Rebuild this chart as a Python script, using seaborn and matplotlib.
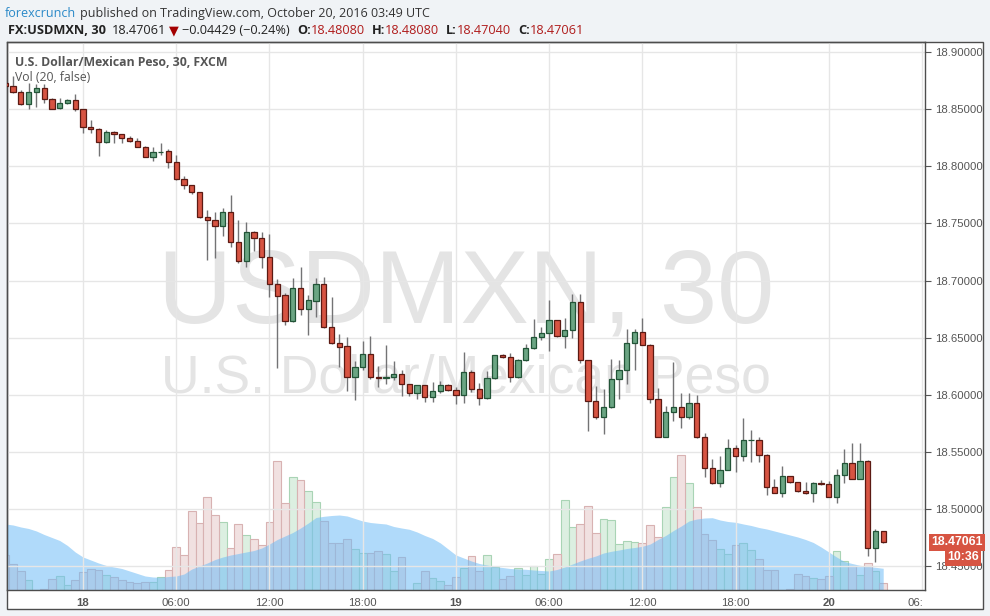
import numpy as np
import pandas as pd
import matplotlib
matplotlib.use('Agg')
import matplotlib.pyplot as plt
import matplotlib.transforms as mtransforms
from matplotlib.patches import Rectangle
from matplotlib.ticker import FormatStrFormatter
import seaborn as sns

# USDMXN 30-minute candles, Oct 17 19:00 -> Oct 20 03:30 UTC
opens = [
    18.8730, 18.8704, 18.8656, 18.8549, 18.8649, 18.8684, 18.8594, 18.8509, 18.8552, 18.8579,
    18.8500, 18.8342, 18.8332, 18.8216, 18.8301, 18.8281, 18.8253, 18.8220, 18.8174, 18.8085,
    18.8126, 18.8132, 18.8036, 18.7887, 18.7834, 18.7773, 18.7554, 18.7528, 18.7480, 18.7601,
    18.7335, 18.7174, 18.7423, 18.7370, 18.7204, 18.6967, 18.6871, 18.6649, 18.6932, 18.6751,
    18.6824, 18.6967, 18.6591, 18.6451, 18.6423, 18.6158, 18.6246, 18.6354, 18.6156, 18.6151,
    18.6153, 18.6179, 18.6092, 18.6013, 18.6083, 18.5978, 18.6030, 18.6083, 18.6039, 18.5995,
    18.6197, 18.6048, 18.5969, 18.6144, 18.6346, 18.6328, 18.6153, 18.6302, 18.6407, 18.6503,
    18.6538, 18.6652, 18.6512, 18.6565, 18.6810, 18.6302, 18.5943, 18.5803, 18.5890, 18.6135,
    18.6214, 18.6451, 18.6547, 18.6433, 18.5960, 18.5633, 18.5847, 18.5890, 18.5803, 18.5925,
    18.5628, 18.5356, 18.5230, 18.5339, 18.5531, 18.5461, 18.5600, 18.5601, 18.5470, 18.5190,
    18.5143, 18.5286, 18.5234, 18.5160, 18.5137, 18.5228, 18.5216, 18.5107, 18.5295, 18.5400,
    18.5265, 18.5420, 18.4655, 18.4808]
highs = [
    18.8738, 18.8791, 18.8669, 18.8728, 18.8721, 18.8721, 18.8599, 18.8596, 18.8590, 18.8634,
    18.8502, 18.8406, 18.8336, 18.8316, 18.8310, 18.8284, 18.8266, 18.8246, 18.8179, 18.8167,
    18.8205, 18.8150, 18.8100, 18.7916, 18.7837, 18.7776, 18.7618, 18.7603, 18.7633, 18.7749,
    18.7530, 18.7513, 18.7434, 18.7423, 18.7405, 18.7011, 18.6889, 18.7020, 18.7116, 18.6874,
    18.7020, 18.7031, 18.6859, 18.6532, 18.6509, 18.6296, 18.6471, 18.6515, 18.6252, 18.6436,
    18.6296, 18.6217, 18.6094, 18.6086, 18.6086, 18.6109, 18.6121, 18.6094, 18.6071, 18.6375,
    18.6217, 18.6100, 18.6208, 18.6348, 18.6357, 18.6363, 18.6313, 18.6442, 18.6664, 18.6596,
    18.6830, 18.6655, 18.6670, 18.6880, 18.6882, 18.6304, 18.6077, 18.6048, 18.6313, 18.6304,
    18.6573, 18.6573, 18.6670, 18.6445, 18.6059, 18.5904, 18.6287, 18.6013, 18.6013, 18.5995,
    18.5663, 18.5435, 18.5464, 18.5610, 18.5558, 18.5797, 18.5691, 18.5628, 18.5481, 18.5260,
    18.5376, 18.5289, 18.5239, 18.5236, 18.5239, 18.5254, 18.5245, 18.5347, 18.5525, 18.5580,
    18.5580, 18.5429, 18.4822, 18.4808]
lows = [
    18.8695, 18.8645, 18.8540, 18.8500, 18.8520, 18.8552, 18.8500, 18.8503, 18.8546, 18.8485,
    18.8295, 18.8295, 18.8093, 18.8207, 18.8207, 18.8202, 18.8214, 18.8170, 18.8082, 18.8050,
    18.8102, 18.7989, 18.7885, 18.7805, 18.7758, 18.7548, 18.7180, 18.7200, 18.7393, 18.7297,
    18.7157, 18.7122, 18.7262, 18.7108, 18.6859, 18.6234, 18.6611, 18.6635, 18.6701, 18.6524,
    18.6684, 18.6585, 18.6445, 18.6246, 18.6036, 18.5954, 18.6217, 18.6135, 18.6071, 18.6094,
    18.6129, 18.5992, 18.5992, 18.5960, 18.5939, 18.5939, 18.6018, 18.6033, 18.5922, 18.5931,
    18.6027, 18.5913, 18.5963, 18.6142, 18.6326, 18.6114, 18.6147, 18.6293, 18.6405, 18.6480,
    18.6386, 18.6506, 18.6412, 18.6500, 18.6281, 18.5685, 18.5785, 18.5659, 18.5881, 18.5960,
    18.6094, 18.6217, 18.6432, 18.5931, 18.5630, 18.5630, 18.5770, 18.5712, 18.5785, 18.5619,
    18.5283, 18.5216, 18.5190, 18.5337, 18.5326, 18.5423, 18.5414, 18.5414, 18.5122, 18.5137,
    18.5107, 18.5227, 18.5151, 18.5131, 18.5061, 18.5210, 18.5105, 18.5052, 18.5230, 18.5258,
    18.5262, 18.4591, 18.4538, 18.4704]
closes = [
    18.8704, 18.8654, 18.8549, 18.8649, 18.8684, 18.8593, 18.8505, 18.8552, 18.8579, 18.8500,
    18.8342, 18.8330, 18.8216, 18.8301, 18.8281, 18.8251, 18.8220, 18.8172, 18.8085, 18.8123,
    18.8130, 18.8036, 18.7887, 18.7834, 18.7773, 18.7554, 18.7528, 18.7480, 18.7601, 18.7335,
    18.7174, 18.7423, 18.7370, 18.7204, 18.6967, 18.6868, 18.6649, 18.6932, 18.6754, 18.6830,
    18.6967, 18.6591, 18.6451, 18.6421, 18.6158, 18.6246, 18.6354, 18.6153, 18.6151, 18.6156,
    18.6179, 18.6092, 18.6013, 18.6083, 18.5978, 18.6030, 18.6083, 18.6039, 18.5995, 18.6197,
    18.6048, 18.5969, 18.6144, 18.6346, 18.6328, 18.6153, 18.6302, 18.6407, 18.6503, 18.6538,
    18.6652, 18.6512, 18.6565, 18.6810, 18.6302, 18.5943, 18.5803, 18.5890, 18.6135, 18.6214,
    18.6451, 18.6547, 18.6433, 18.5960, 18.5633, 18.5847, 18.5890, 18.5803, 18.5925, 18.5628,
    18.5356, 18.5230, 18.5339, 18.5531, 18.5461, 18.5601, 18.5602, 18.5470, 18.5190, 18.5143,
    18.5286, 18.5234, 18.5160, 18.5137, 18.5225, 18.5219, 18.5107, 18.5295, 18.5400, 18.5265,
    18.5417, 18.4655, 18.4804, 18.47061]

# volume (arbitrary units, visible part of the pane) and its 20-bar average
volume = [
    3500, 2600, 1900, 1000, 0, 100, 1100, 1400, 500, 1000,
    1800, 2100, 2000, 1500, 1300, 1000, 800, 700, 800, 800,
    1300, 2000, 4300, 3500, 7900, 6700, 9300, 7500, 6800, 4200,
    6600, 5500, 5100, 4500, 6800, 12900, 8700, 11300, 11000, 9900,
    8800, 6900, 4700, 4700, 5100, 4100, 3700, 3700, 3900, 3600,
    1900, 3300, 0, 700, 1900, 1200, 900, 500, 1300, 2200,
    3400, 1900, 3500, 2300, 1100, 1400, 2200, 1500, 2400, 1600,
    3100, 3600, 9000, 6300, 6600, 8400, 5700, 7100, 7000, 4600,
    4900, 4800, 4700, 6500, 5300, 8300, 11300, 13500, 10700, 8300,
    5600, 5000, 4100, 3600, 4500, 4700, 4000, 3100, 2000, 2000,
    0, 100, 1600, 1400, 1200, 1100, 1400, 3900, 2900, 2400,
    1500, 2700, 1900, 700]
vol_ma = [
    6600, 6500, 6300, 6150, 5900, 5550, 5250, 4950, 4450, 3800,
    3300, 3000, 2700, 2450, 2300, 2150, 1900, 1650, 1400, 1300,
    1270, 1350, 1400, 1600, 2100, 2400, 2700, 3050, 3300, 3500,
    3650, 3800, 3950, 4200, 4600, 5050, 5400, 5750, 6200, 6700,
    7250, 7370, 7450, 7500, 7400, 7150, 6900, 6750, 6670, 6600,
    6350, 6200, 6070, 5800, 5450, 5150, 4700, 4100, 3500, 3200,
    2900, 2650, 2500, 2350, 2250, 2150, 2100, 2070, 2000, 1950,
    1900, 2050, 2300, 2600, 2900, 3170, 3400, 3700, 3870, 4000,
    4150, 4250, 4370, 4600, 5050, 5450, 5950, 6400, 6900, 7100,
    7200, 7230, 7000, 6850, 6770, 6600, 6450, 6250, 6100, 5900,
    5700, 5500, 5300, 5050, 4750, 4300, 3800, 3300, 2850, 2650,
    2470, 2370, 2270, 2170]

# time axis: bar index of each label (bar 10 = Oct 18 00:00)
tick_pos = [10, 22, 34, 46, 58, 70, 82, 94, 106, 118]
tick_labels = ['18', '06:00', '12:00', '18:00', '19', '06:00', '12:00', '18:00', '20', '06:']
day_labels = ['18', '19', '20']
price_ticks = [18.45, 18.50, 18.55, 18.60, 18.65, 18.70, 18.75, 18.80, 18.85, 18.90]
last_price = 18.47061

UP, UP_EDGE = '#6ba583', '#225437'
DOWN, DOWN_EDGE = '#d75442', '#5b1a13'
WICK = '#737375'

sns.set_theme(style='white')
plt.rcParams['font.family'] = ['Open Sans', 'DejaVu Sans']

df = pd.DataFrame({'t': np.arange(len(closes)), 'open': opens, 'high': highs,
                   'low': lows, 'close': closes, 'vol': volume, 'vol_ma': vol_ma})
df['up'] = df['close'] >= df['open']

W, H = 990, 616
fx = lambda px: px / W
fy = lambda py: 1 - py / H

fig = plt.figure(figsize=(9.9, 6.16), dpi=100, facecolor='#f0f3f6')
fig.patches.append(Rectangle((fx(6.7), fy(609.3)), fx(982.7) - fx(6.7), fy(42.3) - fy(609.3),
                             transform=fig.transFigure, facecolor='white',
                             edgecolor='#4d4d4d', lw=1.0, zorder=-1))

ax = fig.add_axes([fx(6.7), fy(590), fx(925) - fx(6.7), fy(42.3) - fy(590)])
axv = ax.twinx()
ax.set_zorder(axv.get_zorder() + 1)
ax.patch.set_visible(False)
axv.patch.set_visible(False)

# volume pane
sns.barplot(data=df[df.up], x='t', y='vol', native_scale=True, width=1.0, errorbar=None,
            color='#dcefe1', edgecolor='#a9d4b5', linewidth=0.8, saturation=1, ax=axv)
sns.barplot(data=df[~df.up], x='t', y='vol', native_scale=True, width=1.0, errorbar=None,
            color='#f1e1e1', edgecolor='#d8b2b2', linewidth=0.8, saturation=1, ax=axv)
axv.fill_between(df['t'], 0, df['vol_ma'], color='#6fbcf6', alpha=0.55, lw=0, zorder=3)
axv.set_ylim(0, 54770)
axv.set_yticks([])
axv.set_xlabel('')
axv.set_ylabel('')
for s in axv.spines.values():
    s.set_visible(False)

# candles
ax.vlines(df['t'], df['low'], df['high'], color=WICK, lw=1, zorder=3)
body_lo = np.minimum(df['open'], df['close'])
body_h = np.abs(df['close'] - df['open'])
ax.bar(df['t'], body_h, bottom=body_lo, width=0.68,
       color=np.where(df['up'], UP, DOWN), edgecolor=np.where(df['up'], UP_EDGE, DOWN_EDGE),
       linewidth=0.9, zorder=4)

ax.set_xlim(0.18, 118.38)
ax.set_ylim(18.4290, 18.9087)
ax.yaxis.tick_right()
ax.set_yticks(price_ticks)
ax.yaxis.set_major_formatter(FormatStrFormatter('%.5f'))
ax.set_xticks(tick_pos)
ax.set_xticklabels(tick_labels)
ax.grid(True, color='#e6e6e6', lw=1)
ax.set_axisbelow(True)
ax.tick_params(axis='x', length=3, width=0.8, color='#555555', pad=2.5,
               labelsize=8.2, labelcolor='#555555')
ax.tick_params(axis='y', length=4, width=0.8, color='#555555', pad=3.5,
               labelsize=8.2, labelcolor='#555555')
for lab in ax.get_xticklabels() + ax.get_yticklabels():
    lab.set_fontfamily('Liberation Sans')
for lab in ax.get_xticklabels():
    if lab.get_text() in day_labels:
        lab.set_fontweight('bold')
last_lab = ax.get_xticklabels()[-1]
last_lab.set_transform(last_lab.get_transform() +
                       mtransforms.ScaledTranslation(-0.07, 0, fig.dpi_scale_trans))
for s in ax.spines.values():
    s.set_color('#4d4d4d')
    s.set_linewidth(1.0)

# watermark
ax.text(0.5, 0.489, 'USDMXN, 30', transform=ax.transAxes, ha='center', va='baseline',
        fontsize=74, color='#e4e4e4', family='Liberation Sans', zorder=0)
ax.text(0.5, 0.3615, 'U.S. Dollar/Mexican Peso', transform=ax.transAxes, ha='center',
        va='baseline', fontsize=38.5, color='#e4e4e4', family='Liberation Sans', zorder=0)

# pane titles
fig.text(fx(15), fy(65.5), 'U.S. Dollar/Mexican Peso, 30, FXCM', fontsize=8.8,
         fontweight='bold', color='#555555', va='baseline')
fig.text(fx(15), fy(81), 'Vol (20, false)', fontsize=8.8, color='#555555', va='baseline')

# last price / countdown labels
tr = mtransforms.blended_transform_factory(ax.transAxes, ax.transData)
ax.text(1.0 + 6 / 918.3, last_price, '18.47061', transform=tr, ha='left', va='center',
        color='white', fontweight='bold', family='Liberation Sans', fontsize=8.8,
        bbox=dict(boxstyle='square,pad=0.2', fc=DOWN, ec='none'), clip_on=False, zorder=10)
ax.text(1.0588, 18.4575, '10:36', transform=tr, ha='right', va='center',
        color='white', fontweight='bold', family='Liberation Sans', fontsize=8.8,
        bbox=dict(boxstyle='square,pad=0.2', fc=DOWN, ec='none'), clip_on=False, zorder=10)

# header lines
renderer = fig.canvas.get_renderer()


def header(x, y, parts, size):
    for s, gap, kw in parts:
        t = fig.text(fx(x), fy(y), s, va='baseline', fontsize=size, **kw)
        x = t.get_window_extent(renderer).x1 + gap


header(5, 16.7, [
    ('forexcrunch', 4, dict(color='#2a89c8')),
    ('published on TradingView.com, October 20, 2016 03:49 UTC', 0, dict(color='#333333')),
], 9.0)
red = '#b01c1c'
header(8, 34.3, [
    ('FX:USDMXN, 30', 6, dict(color='#222222', fontweight='bold')),
    ('18.47061', 3, dict(color='#222222')),
    ('\u25bc', 3, dict(color='#a30000')),
    ('\u22120.04429 (\u22120.24%)', 7, dict(color='#222222')),
    ('O:', 0, dict(color='#222222', fontweight='bold')),
    ('18.48080', 7, dict(color=red)),
    ('H:', 0, dict(color='#222222', fontweight='bold')),
    ('18.48080', 7, dict(color=red)),
    ('L:', 0, dict(color='#222222', fontweight='bold')),
    ('18.47040', 7, dict(color=red)),
    ('C:', 0, dict(color='#222222', fontweight='bold')),
    ('18.47061', 0, dict(color=red)),
], 9.2)

fig.savefig('out.png', dpi=100, facecolor=fig.get_facecolor())
